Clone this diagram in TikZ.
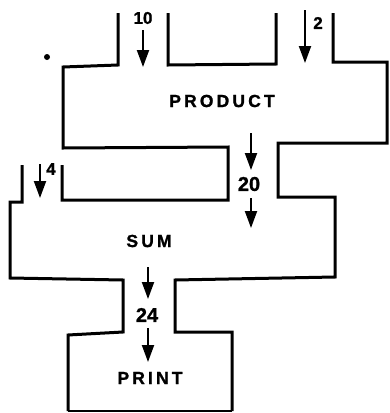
\documentclass[tikz,border=0pt]{standalone}
\usepackage{fontspec}
\setmainfont{Liberation Sans}[BoldFont={Liberation Sans Bold},BoldFeatures={FakeBold=1.2}]
\newfontfamily\lblfont{Liberation Sans}[LetterSpace=18,BoldFont={Liberation Sans Bold},BoldFeatures={FakeBold=1.2}]
\usetikzlibrary{arrows.meta}
\begin{document}
\begin{tikzpicture}[x=1pt,y=-1pt,
  wall/.style={line width=3pt,line join=miter,line cap=butt},
  thinwall/.style={line width=1.5pt},
  flow/.style={line width=2pt,-{Triangle[length=17pt,width=12pt]}},
  boxlabel/.style={font=\lblfont\bfseries\fontsize{17.5}{19}\selectfont,inner sep=0pt},
  numlabel/.style={font=\bfseries\fontsize{20}{22}\selectfont,inner sep=0pt},
  toplabel/.style={font=\bfseries\fontsize{17}{19}\selectfont,inner sep=0pt},
  smalllabel/.style={font=\bfseries\fontsize{17}{19}\selectfont,inner sep=0pt}]
\useasboundingbox (0,0) rectangle (390,413);
% walls
\draw[wall] (118,13) -- (118,65) -- (63,67) -- (63,148) -- (228,147) -- (228,200) -- (62,200) -- (62,165);
\draw[wall] (168,13) -- (168,65) -- (276,64) -- (276,13);
\draw[wall] (333,13) -- (333,62) -- (387,62) -- (387,143) -- (278,143) -- (278,197) -- (335,197) -- (335,277) -- (175,280) -- (175,332) -- (232,332) -- (232,411);
\draw[wall] (22,165) -- (22,202) -- (10,202) -- (10,278) -- (123,280) -- (123,332) -- (68,335) -- (68,411);
\draw[thinwall] (68,411) -- (232,411);
\fill (47,57) circle (3pt);
% labels
\node[boxlabel] (product) at (222,101) {PRODUCT};
\node[boxlabel] (sum) at (149,241) {SUM};
\node[boxlabel] (print) at (150,378) {PRINT};
\node[toplabel] (n10) at (143,18) {10};
\node[smalllabel] (n2) at (318,23) {2};
\node[smalllabel] (n4) at (51,169) {4};
\node[numlabel] (n20) at (249,184) {20};
\node[numlabel] (n24) at (147,315) {24};
% arrows
\coordinate (a10s) at (143,30);
\coordinate (a10e) at (143,67);
\coordinate (a2s) at (305,10);
\coordinate (a2e) at (305,63);
\coordinate (a4s) at (40,164);
\coordinate (a4e) at (40,198);
\coordinate (a20s) at (251,133);
\coordinate (a20m) at (251,170);
\coordinate (a20n) at (251,198);
\coordinate (a20e) at (251,228);
\coordinate (a24s) at (148,267);
\coordinate (a24m) at (148,299);
\coordinate (a24n) at (148,328);
\coordinate (a24e) at (148,362);
\draw[flow] (a10s) -- (a10e);
\draw[flow] (a2s) -- (a2e);
\draw[flow] (a4s) -- (a4e);
\draw[flow] (a20s) -- (a20m);
\draw[flow] (a20n) -- (a20e);
\draw[flow] (a24s) -- (a24m);
\draw[flow] (a24n) -- (a24e);
\end{tikzpicture}
\end{document}
